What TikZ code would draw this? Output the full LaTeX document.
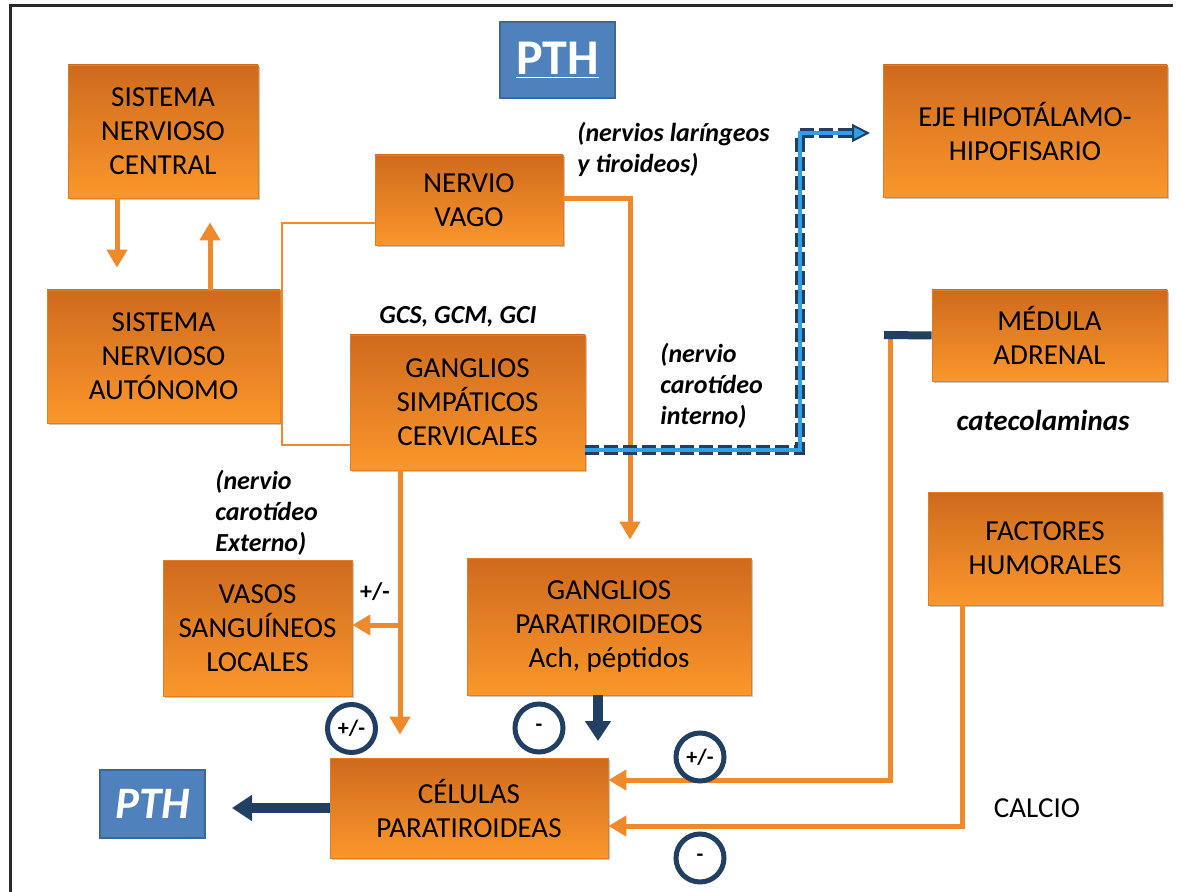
\documentclass[tikz,border=0pt]{standalone}
\usepackage{fontspec}
\setmainfont{Carlito}
\usetikzlibrary{arrows.meta,shadows}

\definecolor{boxtop}{HTML}{CF6A1E}
\definecolor{boxbot}{HTML}{FA972B}
\definecolor{boxedge}{HTML}{E07E26}
\definecolor{oline}{HTML}{EF8A2C}
\definecolor{navyd}{HTML}{213F63}
\definecolor{bluebox}{HTML}{4F81BD}
\definecolor{blueedge}{HTML}{3B6799}
\definecolor{bluelight}{HTML}{2F9FE6}
\definecolor{framec}{HTML}{2A2A2A}

\newcommand\bxfont{\fontsize{14.5}{17}\selectfont}
\newcommand\lbfont{\fontsize{13}{15.5}\selectfont\bfseries\itshape}

\begin{document}
\begin{tikzpicture}[x=0.5pt,y=-0.5pt,
  obox/.style={rectangle, inner sep=0pt, align=center, font=\bxfont,
    top color=boxtop, bottom color=boxbot, draw=boxedge, line width=0.4pt,
    drop shadow={shadow xshift=1.2pt, shadow yshift=-1.2pt, opacity=0.22, fill=black}},
  bbox/.style={rectangle, inner sep=0pt, fill=bluebox, draw=blueedge,
    line width=0.8pt, text=white, font=\bfseries},
  lab/.style={font=\lbfont, align=left, inner sep=0pt},
  oline/.style={draw=oline, line width=2.5pt},
  oarr/.style={oline, -{Triangle[width=10pt,length=9pt]}},
  narr/.style={draw=navyd, line width=5pt, -{Triangle[width=12.5pt,length=10pt]}},
  sign/.style={circle, draw=navyd, line width=2.5pt, minimum size=24pt,
    inner sep=0pt, fill=white, font=\fontsize{11}{12}\selectfont\bfseries}]

\useasboundingbox (0,0) rectangle (1182,892);

% outer frame
\draw[framec, line width=1.5pt] (10,892) -- (10,6) -- (1173,6);

% boxes
\node[obox, minimum width=95pt,   minimum height=66.5pt] (snc) at (163,131.5) {SISTEMA\\NERVIOSO\\CENTRAL};
\node[obox, minimum width=116.5pt, minimum height=66.5pt] (sna) at (163.5,356.5) {SISTEMA\\NERVIOSO\\AUTÓNOMO};
\node[obox, minimum width=94pt,   minimum height=45pt]   (vago) at (469,200) {NERVIO\\VAGO};
\node[obox, minimum width=117.5pt, minimum height=67.5pt] (gsc) at (467.5,402.5) {GANGLIOS\\SIMPÁTICOS\\CERVICALES};
\node[obox, minimum width=142pt,  minimum height=66pt]   (eje) at (1025,131) {EJE HIPOTÁLAMO-\\HIPOFISARIO};
\node[obox, minimum width=117.5pt, minimum height=45.5pt] (med) at (1049.5,335.5) {MÉDULA\\ADRENAL};
\node[obox, minimum width=117pt,  minimum height=56.5pt] (fac) at (1045,548.5) {FACTORES\\HUMORALES};
\node[obox, minimum width=94.5pt, minimum height=68pt]   (vas) at (257.5,628) {VASOS\\SANGUÍNEOS\\LOCALES};
\node[obox, minimum width=142pt,  minimum height=68.5pt] (gpt) at (609,626.5) {GANGLIOS\\PARATIROIDEOS\\Ach, péptidos};
\node[obox, minimum width=139pt,  minimum height=50pt]   (cel) at (469,808) {CÉLULAS\\PARATIROIDEAS};

\node[bbox, minimum width=57.5pt, minimum height=38pt, font=\fontsize{25}{28}\selectfont\bfseries] (pthtop) at (557.5,60) {\underline{PTH}};
\node[bbox, minimum width=52.5pt, minimum height=34pt, font=\fontsize{22.5}{25}\selectfont\bfseries\itshape] (pthbot) at (152.5,804) {PTH};

% labels
\node[lab, anchor=west] (lnl) at (577,149) {(nervios laríngeos\\y tiroideos)};
\node[lab] (lgc) at (458,317) {GCS, GCM, GCI};
\node[lab, anchor=west] (lci) at (660,386) {(nervio\\carotídeo\\interno)};
\node[lab, anchor=west] (lce) at (215,513) {(nervio\\carotídeo\\Externo)};
\node[lab, font=\fontsize{14.5}{16}\selectfont\bfseries\itshape] (lcat) at (1043,420) {catecolaminas};
\node[font=\fontsize{12}{13}\selectfont\bfseries, inner sep=0pt] (lpm) at (375,592) {+/-};
\node[font=\bxfont, inner sep=0pt] (lcal) at (1037,808) {CALCIO};

% central and autonomic nervous system
\draw[oarr, shorten >=11pt] (117,0 |- snc.south) -- (117,0 |- sna.north);
\draw[oarr, shorten >=12pt] (210,0 |- sna.north) -- (210,0 |- snc.south);
\draw[draw=oline, line width=1pt] (vago.west |- 0,223) -- (282,223) -- (282,445) -- (gsc.west |- 0,445);

% vagus nerve to parathyroid ganglia
\draw[oarr, shorten >=9pt] (vago.east |- 0,199) -- (630,199) -- (630,0 |- gpt.north);

% sympathetic ganglia down to the cells, branch to the vessels
\draw[oarr, shorten >=11.5pt] (400,0 |- gsc.south) -- (400,0 |- cel.north);
\coordinate (br) at (400,625);
\draw[oarr] (br) -- (vas.east |- br);

% internal carotid nerve to the hypothalamic-pituitary axis
\coordinate (d1) at (800,450);
\coordinate (d2) at (800,133);
\coordinate (d3) at (870,133);
\draw[navyd, line width=4.6pt, dash pattern=on 7pt off 2.5pt, shorten >=8pt]
  (gsc.east |- d1) -- (d1) -- (d2) -- (d3);
\draw[bluelight, line width=2pt,
  -{Triangle[width=9pt,length=9pt,line width=1pt,fill=bluelight,color=navyd]}]
  (gsc.east |- d1) -- (d1) -- (d2) -- (d3);

% adrenal medulla and humoral factors to the cells
\coordinate (m1) at (890,335);
\coordinate (f1) at (962,826);
\draw[oarr] (m1) -- (890,780) -- (cel.east |- 0,780);
\draw[navyd, line width=4pt] (884,335) -- (med.west);
\draw[oarr] (962,0 |- fac.south) -- (f1) -- (cel.east |- f1);

% parathyroid ganglia and secretion
\draw[narr] (598,0 |- gpt.south) -- (598,741);
\draw[narr] (cel.west) -- (232,0 |- cel.west);

% effect signs
\node[sign] (s1) at (351.5,728.5) {+/-};
\node[sign] (s2) at (539,728) {-};
\node[sign] (s3) at (700,757) {+/-};
\node[sign] (s4) at (700,858) {-};

\end{tikzpicture}
\end{document}
